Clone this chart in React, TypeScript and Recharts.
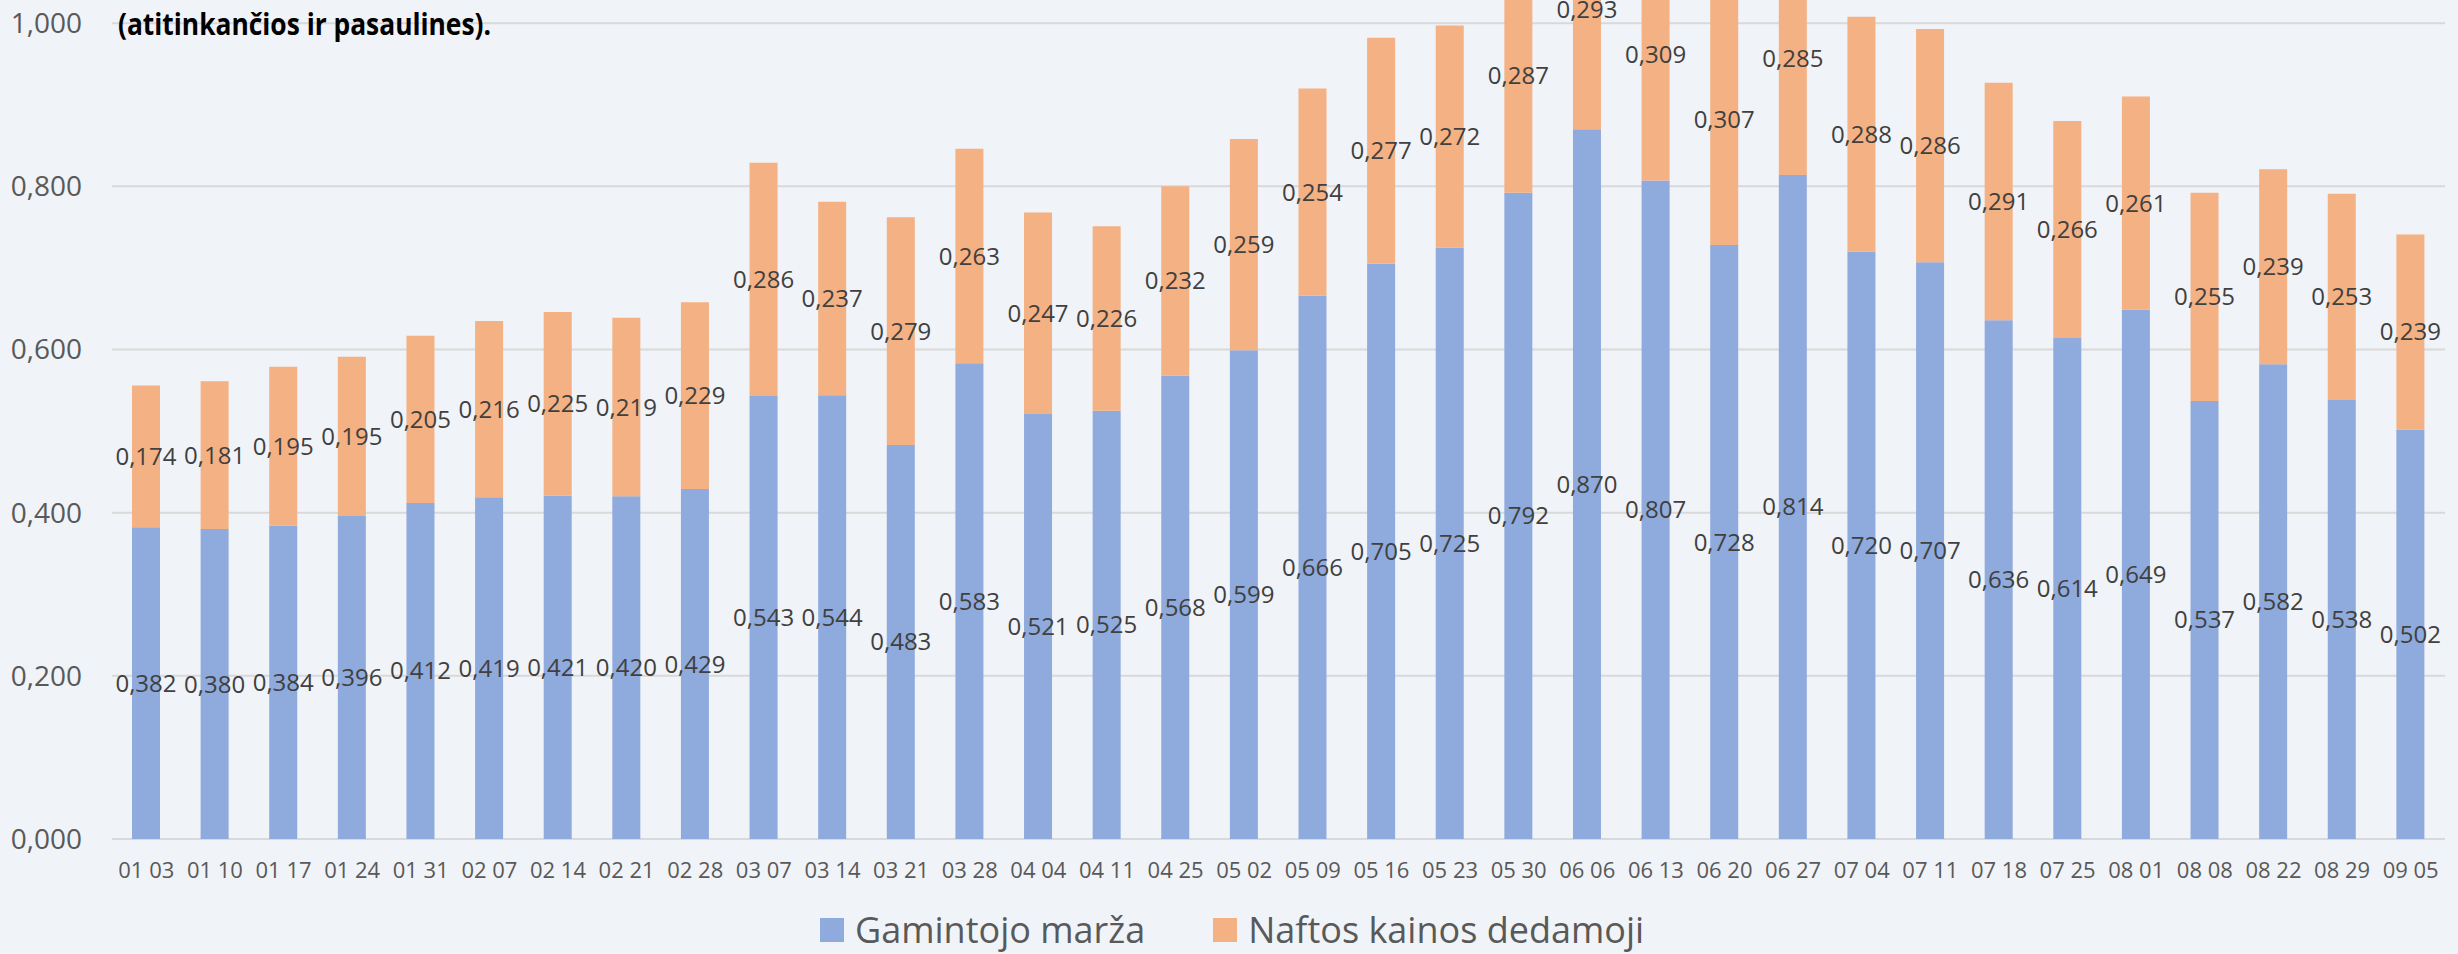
import React from 'react';
import { BarChart, Bar, XAxis, YAxis, CartesianGrid, Legend, LabelList } from 'recharts';

const weeks = [
  '01 03', '01 10', '01 17', '01 24', '01 31', '02 07', '02 14', '02 21', '02 28',
  '03 07', '03 14', '03 21', '03 28', '04 04', '04 11', '04 25', '05 02', '05 09',
  '05 16', '05 23', '05 30', '06 06', '06 13', '06 20', '06 27', '07 04', '07 11',
  '07 18', '07 25', '08 01', '08 08', '08 22', '08 29', '09 05',
];

// Gamintojo marža
const producerMargin = [
  0.382, 0.38, 0.384, 0.396, 0.412, 0.419, 0.421, 0.42, 0.429,
  0.543, 0.544, 0.483, 0.583, 0.521, 0.525, 0.568, 0.599, 0.666,
  0.705, 0.725, 0.792, 0.87, 0.807, 0.728, 0.814, 0.72, 0.707,
  0.636, 0.614, 0.649, 0.537, 0.582, 0.538, 0.502,
];

// Naftos kainos dedamoji
const oilComponent = [
  0.174, 0.181, 0.195, 0.195, 0.205, 0.216, 0.225, 0.219, 0.229,
  0.286, 0.237, 0.279, 0.263, 0.247, 0.226, 0.232, 0.259, 0.254,
  0.277, 0.272, 0.287, 0.293, 0.309, 0.307, 0.285, 0.288, 0.286,
  0.291, 0.266, 0.261, 0.255, 0.239, 0.253, 0.239,
];

const yTicks = [0, 0.2, 0.4, 0.6, 0.8, 1.0];

const BLUE = '#8FAADC';
const ORANGE = '#F4B183';
const FONT = '"Open Sans", sans-serif';

const data = weeks.map((week, i) => ({
  week,
  marza: producerMargin[i],
  nafta: oilComponent[i],
}));

const fmt = (v: any) => Number(v).toFixed(3).replace('.', ',');

const renderLegend = () => (
  <div style={{ display: 'flex', alignItems: 'center', paddingLeft: 820, paddingTop: 13, fontFamily: FONT, fontSize: 36, color: '#595959', lineHeight: 1 }}>
    <span style={{ width: 24, height: 24, background: BLUE, marginRight: 11 }} />
    <span style={{ marginRight: 68 }}>Gamintojo marža</span>
    <span style={{ width: 24, height: 24, background: ORANGE, marginRight: 11 }} />
    <span>Naftos kainos dedamoji</span>
  </div>
);

export default function App() {
  return (
    <div style={{ position: 'absolute', top: 0, left: 0, width: 2458, height: 954, overflow: 'hidden', background: '#F0F3F7' }}>
      <div style={{ position: 'absolute', top: -140, left: 0 }}>
        <BarChart width={2458} height={1095} data={data} margin={{ top: 0, right: 13, left: 0, bottom: 0 }} barSize={28}>
          <CartesianGrid vertical={false} stroke="#D9D9D9" strokeWidth={2} />
          <XAxis
            dataKey="week"
            interval={0}
            axisLine={false}
            tickLine={false}
            tickSize={0}
            tickMargin={23}
            height={60}
            tick={{ fontSize: 22, fill: '#595959', fontFamily: FONT }}
          />
          <YAxis
            domain={[0, 1.2]}
            ticks={yTicks}
            width={112}
            axisLine={false}
            tickLine={false}
            tickSize={0}
            tickMargin={30}
            tickFormatter={fmt}
            tick={{ fontSize: 28, fill: '#595959', fontFamily: FONT }}
          />
          <Legend verticalAlign="bottom" content={renderLegend} wrapperStyle={{ height: 56 }} />
          <Bar dataKey="marza" name="Gamintojo marža" stackId="a" fill={BLUE} isAnimationActive={false}>
            <LabelList dataKey="marza" position="center" formatter={fmt} style={{ fontSize: 24, fill: '#404040', fontFamily: FONT }} />
          </Bar>
          <Bar dataKey="nafta" name="Naftos kainos dedamoji" stackId="a" fill={ORANGE} isAnimationActive={false}>
            <LabelList dataKey="nafta" position="center" formatter={fmt} style={{ fontSize: 24, fill: '#404040', fontFamily: FONT }} />
          </Bar>
        </BarChart>
      </div>
      <svg style={{ position: 'absolute', top: 0, left: 0 }} width={600} height={60}>
        <text x={118} y={35} fontFamily={FONT} fontWeight="bold" fontSize={30} fill="#000" textLength={373} lengthAdjust="spacingAndGlyphs">
          (atitinkančios ir pasaulines).
        </text>
      </svg>
    </div>
  );
}
